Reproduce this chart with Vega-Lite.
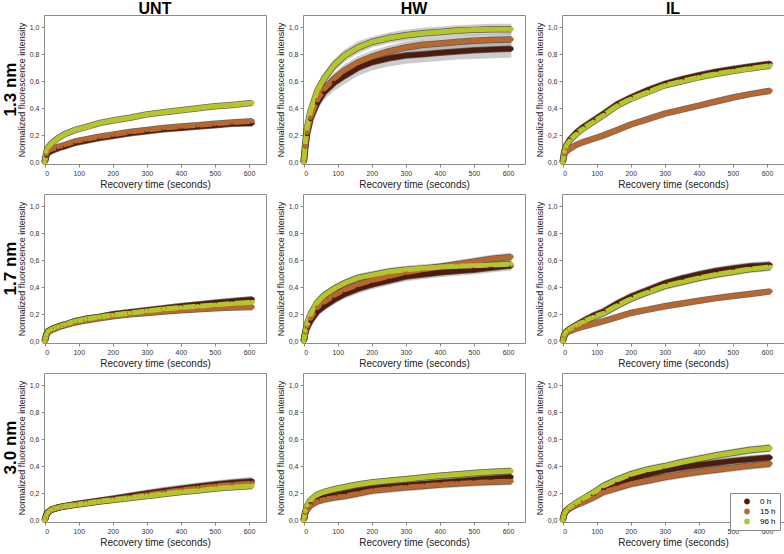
{
"$schema":"https://vega.github.io/schema/vega-lite/v6.json",
"padding":{"left":1,"top":1,"right":0,"bottom":0},
"background":"white",
"data":{"values":[
{"r":"1.3 nm","c":"UNT","g":"0 h","t":0,"y":0,"e":0.005},{"r":"1.3 nm","c":"UNT","g":"0 h","t":5,"y":0.05,"e":0.008},{"r":"1.3 nm","c":"UNT","g":"0 h","t":10,"y":0.07,"e":0.01},{"r":"1.3 nm","c":"UNT","g":"0 h","t":20,"y":0.085,"e":0.01},{"r":"1.3 nm","c":"UNT","g":"0 h","t":40,"y":0.105,"e":0.012},{"r":"1.3 nm","c":"UNT","g":"0 h","t":60,"y":0.12,"e":0.012},{"r":"1.3 nm","c":"UNT","g":"0 h","t":90,"y":0.145,"e":0.014},{"r":"1.3 nm","c":"UNT","g":"0 h","t":120,"y":0.16,"e":0.014},{"r":"1.3 nm","c":"UNT","g":"0 h","t":160,"y":0.18,"e":0.015},{"r":"1.3 nm","c":"UNT","g":"0 h","t":200,"y":0.195,"e":0.016},{"r":"1.3 nm","c":"UNT","g":"0 h","t":250,"y":0.215,"e":0.017},{"r":"1.3 nm","c":"UNT","g":"0 h","t":300,"y":0.23,"e":0.018},{"r":"1.3 nm","c":"UNT","g":"0 h","t":350,"y":0.245,"e":0.018},{"r":"1.3 nm","c":"UNT","g":"0 h","t":400,"y":0.255,"e":0.019},{"r":"1.3 nm","c":"UNT","g":"0 h","t":450,"y":0.265,"e":0.02},{"r":"1.3 nm","c":"UNT","g":"0 h","t":500,"y":0.275,"e":0.02},{"r":"1.3 nm","c":"UNT","g":"0 h","t":550,"y":0.285,"e":0.02},{"r":"1.3 nm","c":"UNT","g":"0 h","t":610,"y":0.29,"e":0.02},
{"r":"1.3 nm","c":"UNT","g":"15 h","t":0,"y":0,"e":0.005},{"r":"1.3 nm","c":"UNT","g":"15 h","t":5,"y":0.06,"e":0.008},{"r":"1.3 nm","c":"UNT","g":"15 h","t":10,"y":0.08,"e":0.01},{"r":"1.3 nm","c":"UNT","g":"15 h","t":20,"y":0.095,"e":0.01},{"r":"1.3 nm","c":"UNT","g":"15 h","t":40,"y":0.115,"e":0.012},{"r":"1.3 nm","c":"UNT","g":"15 h","t":60,"y":0.13,"e":0.012},{"r":"1.3 nm","c":"UNT","g":"15 h","t":90,"y":0.155,"e":0.013},{"r":"1.3 nm","c":"UNT","g":"15 h","t":120,"y":0.17,"e":0.013},{"r":"1.3 nm","c":"UNT","g":"15 h","t":160,"y":0.19,"e":0.014},{"r":"1.3 nm","c":"UNT","g":"15 h","t":200,"y":0.205,"e":0.015},{"r":"1.3 nm","c":"UNT","g":"15 h","t":250,"y":0.225,"e":0.015},{"r":"1.3 nm","c":"UNT","g":"15 h","t":300,"y":0.24,"e":0.016},{"r":"1.3 nm","c":"UNT","g":"15 h","t":350,"y":0.255,"e":0.016},{"r":"1.3 nm","c":"UNT","g":"15 h","t":400,"y":0.265,"e":0.017},{"r":"1.3 nm","c":"UNT","g":"15 h","t":450,"y":0.275,"e":0.017},{"r":"1.3 nm","c":"UNT","g":"15 h","t":500,"y":0.285,"e":0.018},{"r":"1.3 nm","c":"UNT","g":"15 h","t":550,"y":0.295,"e":0.018},{"r":"1.3 nm","c":"UNT","g":"15 h","t":610,"y":0.305,"e":0.018},
{"r":"1.3 nm","c":"UNT","g":"96 h","t":0,"y":0,"e":0.005},{"r":"1.3 nm","c":"UNT","g":"96 h","t":5,"y":0.08,"e":0.008},{"r":"1.3 nm","c":"UNT","g":"96 h","t":10,"y":0.11,"e":0.01},{"r":"1.3 nm","c":"UNT","g":"96 h","t":20,"y":0.14,"e":0.01},{"r":"1.3 nm","c":"UNT","g":"96 h","t":40,"y":0.18,"e":0.012},{"r":"1.3 nm","c":"UNT","g":"96 h","t":60,"y":0.21,"e":0.012},{"r":"1.3 nm","c":"UNT","g":"96 h","t":90,"y":0.24,"e":0.013},{"r":"1.3 nm","c":"UNT","g":"96 h","t":120,"y":0.26,"e":0.014},{"r":"1.3 nm","c":"UNT","g":"96 h","t":160,"y":0.29,"e":0.015},{"r":"1.3 nm","c":"UNT","g":"96 h","t":200,"y":0.31,"e":0.015},{"r":"1.3 nm","c":"UNT","g":"96 h","t":250,"y":0.33,"e":0.016},{"r":"1.3 nm","c":"UNT","g":"96 h","t":300,"y":0.355,"e":0.016},{"r":"1.3 nm","c":"UNT","g":"96 h","t":350,"y":0.37,"e":0.017},{"r":"1.3 nm","c":"UNT","g":"96 h","t":400,"y":0.385,"e":0.017},{"r":"1.3 nm","c":"UNT","g":"96 h","t":450,"y":0.4,"e":0.018},{"r":"1.3 nm","c":"UNT","g":"96 h","t":500,"y":0.415,"e":0.018},{"r":"1.3 nm","c":"UNT","g":"96 h","t":550,"y":0.425,"e":0.018},{"r":"1.3 nm","c":"UNT","g":"96 h","t":610,"y":0.44,"e":0.018},
{"r":"1.3 nm","c":"HW","g":"0 h","t":0,"y":0,"e":0.01},{"r":"1.3 nm","c":"HW","g":"0 h","t":5,"y":0.12,"e":0.02},{"r":"1.3 nm","c":"HW","g":"0 h","t":10,"y":0.21,"e":0.03},{"r":"1.3 nm","c":"HW","g":"0 h","t":20,"y":0.32,"e":0.04},{"r":"1.3 nm","c":"HW","g":"0 h","t":40,"y":0.44,"e":0.05},{"r":"1.3 nm","c":"HW","g":"0 h","t":60,"y":0.52,"e":0.055},{"r":"1.3 nm","c":"HW","g":"0 h","t":90,"y":0.59,"e":0.06},{"r":"1.3 nm","c":"HW","g":"0 h","t":120,"y":0.64,"e":0.06},{"r":"1.3 nm","c":"HW","g":"0 h","t":160,"y":0.7,"e":0.06},{"r":"1.3 nm","c":"HW","g":"0 h","t":200,"y":0.74,"e":0.06},{"r":"1.3 nm","c":"HW","g":"0 h","t":250,"y":0.77,"e":0.06},{"r":"1.3 nm","c":"HW","g":"0 h","t":300,"y":0.79,"e":0.06},{"r":"1.3 nm","c":"HW","g":"0 h","t":350,"y":0.8,"e":0.06},{"r":"1.3 nm","c":"HW","g":"0 h","t":400,"y":0.81,"e":0.06},{"r":"1.3 nm","c":"HW","g":"0 h","t":450,"y":0.82,"e":0.06},{"r":"1.3 nm","c":"HW","g":"0 h","t":500,"y":0.83,"e":0.065},{"r":"1.3 nm","c":"HW","g":"0 h","t":550,"y":0.835,"e":0.065},{"r":"1.3 nm","c":"HW","g":"0 h","t":610,"y":0.84,"e":0.065},
{"r":"1.3 nm","c":"HW","g":"15 h","t":0,"y":0,"e":0.01},{"r":"1.3 nm","c":"HW","g":"15 h","t":5,"y":0.12,"e":0.02},{"r":"1.3 nm","c":"HW","g":"15 h","t":10,"y":0.22,"e":0.03},{"r":"1.3 nm","c":"HW","g":"15 h","t":20,"y":0.33,"e":0.035},{"r":"1.3 nm","c":"HW","g":"15 h","t":40,"y":0.46,"e":0.04},{"r":"1.3 nm","c":"HW","g":"15 h","t":60,"y":0.54,"e":0.045},{"r":"1.3 nm","c":"HW","g":"15 h","t":90,"y":0.62,"e":0.045},{"r":"1.3 nm","c":"HW","g":"15 h","t":120,"y":0.68,"e":0.045},{"r":"1.3 nm","c":"HW","g":"15 h","t":160,"y":0.74,"e":0.045},{"r":"1.3 nm","c":"HW","g":"15 h","t":200,"y":0.78,"e":0.045},{"r":"1.3 nm","c":"HW","g":"15 h","t":250,"y":0.82,"e":0.045},{"r":"1.3 nm","c":"HW","g":"15 h","t":300,"y":0.85,"e":0.045},{"r":"1.3 nm","c":"HW","g":"15 h","t":350,"y":0.87,"e":0.045},{"r":"1.3 nm","c":"HW","g":"15 h","t":400,"y":0.88,"e":0.045},{"r":"1.3 nm","c":"HW","g":"15 h","t":450,"y":0.89,"e":0.045},{"r":"1.3 nm","c":"HW","g":"15 h","t":500,"y":0.9,"e":0.045},{"r":"1.3 nm","c":"HW","g":"15 h","t":550,"y":0.905,"e":0.045},{"r":"1.3 nm","c":"HW","g":"15 h","t":610,"y":0.91,"e":0.045},
{"r":"1.3 nm","c":"HW","g":"96 h","t":0,"y":0,"e":0.01},{"r":"1.3 nm","c":"HW","g":"96 h","t":5,"y":0.15,"e":0.02},{"r":"1.3 nm","c":"HW","g":"96 h","t":10,"y":0.26,"e":0.03},{"r":"1.3 nm","c":"HW","g":"96 h","t":20,"y":0.38,"e":0.035},{"r":"1.3 nm","c":"HW","g":"96 h","t":40,"y":0.53,"e":0.04},{"r":"1.3 nm","c":"HW","g":"96 h","t":60,"y":0.62,"e":0.045},{"r":"1.3 nm","c":"HW","g":"96 h","t":90,"y":0.72,"e":0.045},{"r":"1.3 nm","c":"HW","g":"96 h","t":120,"y":0.79,"e":0.045},{"r":"1.3 nm","c":"HW","g":"96 h","t":160,"y":0.85,"e":0.045},{"r":"1.3 nm","c":"HW","g":"96 h","t":200,"y":0.89,"e":0.04},{"r":"1.3 nm","c":"HW","g":"96 h","t":250,"y":0.92,"e":0.04},{"r":"1.3 nm","c":"HW","g":"96 h","t":300,"y":0.94,"e":0.04},{"r":"1.3 nm","c":"HW","g":"96 h","t":350,"y":0.955,"e":0.04},{"r":"1.3 nm","c":"HW","g":"96 h","t":400,"y":0.965,"e":0.04},{"r":"1.3 nm","c":"HW","g":"96 h","t":450,"y":0.975,"e":0.04},{"r":"1.3 nm","c":"HW","g":"96 h","t":500,"y":0.98,"e":0.04},{"r":"1.3 nm","c":"HW","g":"96 h","t":550,"y":0.985,"e":0.04},{"r":"1.3 nm","c":"HW","g":"96 h","t":610,"y":0.985,"e":0.04},
{"r":"1.3 nm","c":"IL","g":"0 h","t":0,"y":0,"e":0.005},{"r":"1.3 nm","c":"IL","g":"0 h","t":5,"y":0.08,"e":0.01},{"r":"1.3 nm","c":"IL","g":"0 h","t":10,"y":0.12,"e":0.012},{"r":"1.3 nm","c":"IL","g":"0 h","t":20,"y":0.165,"e":0.015},{"r":"1.3 nm","c":"IL","g":"0 h","t":40,"y":0.22,"e":0.018},{"r":"1.3 nm","c":"IL","g":"0 h","t":60,"y":0.26,"e":0.02},{"r":"1.3 nm","c":"IL","g":"0 h","t":90,"y":0.31,"e":0.02},{"r":"1.3 nm","c":"IL","g":"0 h","t":120,"y":0.36,"e":0.02},{"r":"1.3 nm","c":"IL","g":"0 h","t":160,"y":0.43,"e":0.02},{"r":"1.3 nm","c":"IL","g":"0 h","t":200,"y":0.48,"e":0.02},{"r":"1.3 nm","c":"IL","g":"0 h","t":250,"y":0.535,"e":0.02},{"r":"1.3 nm","c":"IL","g":"0 h","t":300,"y":0.58,"e":0.02},{"r":"1.3 nm","c":"IL","g":"0 h","t":350,"y":0.615,"e":0.02},{"r":"1.3 nm","c":"IL","g":"0 h","t":400,"y":0.645,"e":0.02},{"r":"1.3 nm","c":"IL","g":"0 h","t":450,"y":0.67,"e":0.02},{"r":"1.3 nm","c":"IL","g":"0 h","t":500,"y":0.69,"e":0.02},{"r":"1.3 nm","c":"IL","g":"0 h","t":550,"y":0.71,"e":0.02},{"r":"1.3 nm","c":"IL","g":"0 h","t":610,"y":0.73,"e":0.02},
{"r":"1.3 nm","c":"IL","g":"15 h","t":0,"y":0,"e":0.005},{"r":"1.3 nm","c":"IL","g":"15 h","t":5,"y":0.06,"e":0.008},{"r":"1.3 nm","c":"IL","g":"15 h","t":10,"y":0.08,"e":0.01},{"r":"1.3 nm","c":"IL","g":"15 h","t":20,"y":0.1,"e":0.01},{"r":"1.3 nm","c":"IL","g":"15 h","t":40,"y":0.13,"e":0.012},{"r":"1.3 nm","c":"IL","g":"15 h","t":60,"y":0.15,"e":0.012},{"r":"1.3 nm","c":"IL","g":"15 h","t":90,"y":0.175,"e":0.013},{"r":"1.3 nm","c":"IL","g":"15 h","t":120,"y":0.2,"e":0.014},{"r":"1.3 nm","c":"IL","g":"15 h","t":160,"y":0.24,"e":0.015},{"r":"1.3 nm","c":"IL","g":"15 h","t":200,"y":0.28,"e":0.015},{"r":"1.3 nm","c":"IL","g":"15 h","t":250,"y":0.32,"e":0.016},{"r":"1.3 nm","c":"IL","g":"15 h","t":300,"y":0.36,"e":0.016},{"r":"1.3 nm","c":"IL","g":"15 h","t":350,"y":0.39,"e":0.017},{"r":"1.3 nm","c":"IL","g":"15 h","t":400,"y":0.42,"e":0.017},{"r":"1.3 nm","c":"IL","g":"15 h","t":450,"y":0.45,"e":0.018},{"r":"1.3 nm","c":"IL","g":"15 h","t":500,"y":0.48,"e":0.018},{"r":"1.3 nm","c":"IL","g":"15 h","t":550,"y":0.505,"e":0.018},{"r":"1.3 nm","c":"IL","g":"15 h","t":610,"y":0.53,"e":0.018},
{"r":"1.3 nm","c":"IL","g":"96 h","t":0,"y":0,"e":0.005},{"r":"1.3 nm","c":"IL","g":"96 h","t":5,"y":0.08,"e":0.01},{"r":"1.3 nm","c":"IL","g":"96 h","t":10,"y":0.12,"e":0.012},{"r":"1.3 nm","c":"IL","g":"96 h","t":20,"y":0.16,"e":0.015},{"r":"1.3 nm","c":"IL","g":"96 h","t":40,"y":0.21,"e":0.018},{"r":"1.3 nm","c":"IL","g":"96 h","t":60,"y":0.25,"e":0.02},{"r":"1.3 nm","c":"IL","g":"96 h","t":90,"y":0.3,"e":0.02},{"r":"1.3 nm","c":"IL","g":"96 h","t":120,"y":0.35,"e":0.02},{"r":"1.3 nm","c":"IL","g":"96 h","t":160,"y":0.42,"e":0.02},{"r":"1.3 nm","c":"IL","g":"96 h","t":200,"y":0.47,"e":0.02},{"r":"1.3 nm","c":"IL","g":"96 h","t":250,"y":0.52,"e":0.02},{"r":"1.3 nm","c":"IL","g":"96 h","t":300,"y":0.57,"e":0.02},{"r":"1.3 nm","c":"IL","g":"96 h","t":350,"y":0.6,"e":0.02},{"r":"1.3 nm","c":"IL","g":"96 h","t":400,"y":0.63,"e":0.02},{"r":"1.3 nm","c":"IL","g":"96 h","t":450,"y":0.655,"e":0.02},{"r":"1.3 nm","c":"IL","g":"96 h","t":500,"y":0.675,"e":0.02},{"r":"1.3 nm","c":"IL","g":"96 h","t":550,"y":0.695,"e":0.02},{"r":"1.3 nm","c":"IL","g":"96 h","t":610,"y":0.715,"e":0.02},
{"r":"1.7 nm","c":"UNT","g":"0 h","t":0,"y":0,"e":0.005},{"r":"1.7 nm","c":"UNT","g":"0 h","t":5,"y":0.05,"e":0.01},{"r":"1.7 nm","c":"UNT","g":"0 h","t":10,"y":0.075,"e":0.012},{"r":"1.7 nm","c":"UNT","g":"0 h","t":20,"y":0.09,"e":0.015},{"r":"1.7 nm","c":"UNT","g":"0 h","t":40,"y":0.11,"e":0.018},{"r":"1.7 nm","c":"UNT","g":"0 h","t":60,"y":0.125,"e":0.02},{"r":"1.7 nm","c":"UNT","g":"0 h","t":90,"y":0.15,"e":0.02},{"r":"1.7 nm","c":"UNT","g":"0 h","t":120,"y":0.165,"e":0.022},{"r":"1.7 nm","c":"UNT","g":"0 h","t":160,"y":0.18,"e":0.022},{"r":"1.7 nm","c":"UNT","g":"0 h","t":200,"y":0.2,"e":0.024},{"r":"1.7 nm","c":"UNT","g":"0 h","t":250,"y":0.215,"e":0.025},{"r":"1.7 nm","c":"UNT","g":"0 h","t":300,"y":0.23,"e":0.025},{"r":"1.7 nm","c":"UNT","g":"0 h","t":350,"y":0.245,"e":0.025},{"r":"1.7 nm","c":"UNT","g":"0 h","t":400,"y":0.26,"e":0.025},{"r":"1.7 nm","c":"UNT","g":"0 h","t":450,"y":0.272,"e":0.025},{"r":"1.7 nm","c":"UNT","g":"0 h","t":500,"y":0.285,"e":0.025},{"r":"1.7 nm","c":"UNT","g":"0 h","t":550,"y":0.297,"e":0.025},{"r":"1.7 nm","c":"UNT","g":"0 h","t":610,"y":0.31,"e":0.025},
{"r":"1.7 nm","c":"UNT","g":"15 h","t":0,"y":0,"e":0.005},{"r":"1.7 nm","c":"UNT","g":"15 h","t":5,"y":0.05,"e":0.01},{"r":"1.7 nm","c":"UNT","g":"15 h","t":10,"y":0.07,"e":0.012},{"r":"1.7 nm","c":"UNT","g":"15 h","t":20,"y":0.085,"e":0.014},{"r":"1.7 nm","c":"UNT","g":"15 h","t":40,"y":0.105,"e":0.016},{"r":"1.7 nm","c":"UNT","g":"15 h","t":60,"y":0.12,"e":0.018},{"r":"1.7 nm","c":"UNT","g":"15 h","t":90,"y":0.14,"e":0.018},{"r":"1.7 nm","c":"UNT","g":"15 h","t":120,"y":0.155,"e":0.02},{"r":"1.7 nm","c":"UNT","g":"15 h","t":160,"y":0.17,"e":0.02},{"r":"1.7 nm","c":"UNT","g":"15 h","t":200,"y":0.185,"e":0.02},{"r":"1.7 nm","c":"UNT","g":"15 h","t":250,"y":0.2,"e":0.02},{"r":"1.7 nm","c":"UNT","g":"15 h","t":300,"y":0.21,"e":0.02},{"r":"1.7 nm","c":"UNT","g":"15 h","t":350,"y":0.22,"e":0.02},{"r":"1.7 nm","c":"UNT","g":"15 h","t":400,"y":0.23,"e":0.02},{"r":"1.7 nm","c":"UNT","g":"15 h","t":450,"y":0.238,"e":0.02},{"r":"1.7 nm","c":"UNT","g":"15 h","t":500,"y":0.245,"e":0.02},{"r":"1.7 nm","c":"UNT","g":"15 h","t":550,"y":0.25,"e":0.02},{"r":"1.7 nm","c":"UNT","g":"15 h","t":610,"y":0.255,"e":0.02},
{"r":"1.7 nm","c":"UNT","g":"96 h","t":0,"y":0,"e":0.005},{"r":"1.7 nm","c":"UNT","g":"96 h","t":5,"y":0.05,"e":0.01},{"r":"1.7 nm","c":"UNT","g":"96 h","t":10,"y":0.075,"e":0.012},{"r":"1.7 nm","c":"UNT","g":"96 h","t":20,"y":0.09,"e":0.014},{"r":"1.7 nm","c":"UNT","g":"96 h","t":40,"y":0.11,"e":0.016},{"r":"1.7 nm","c":"UNT","g":"96 h","t":60,"y":0.125,"e":0.018},{"r":"1.7 nm","c":"UNT","g":"96 h","t":90,"y":0.15,"e":0.018},{"r":"1.7 nm","c":"UNT","g":"96 h","t":120,"y":0.165,"e":0.02},{"r":"1.7 nm","c":"UNT","g":"96 h","t":160,"y":0.18,"e":0.02},{"r":"1.7 nm","c":"UNT","g":"96 h","t":200,"y":0.195,"e":0.02},{"r":"1.7 nm","c":"UNT","g":"96 h","t":250,"y":0.21,"e":0.02},{"r":"1.7 nm","c":"UNT","g":"96 h","t":300,"y":0.225,"e":0.02},{"r":"1.7 nm","c":"UNT","g":"96 h","t":350,"y":0.24,"e":0.02},{"r":"1.7 nm","c":"UNT","g":"96 h","t":400,"y":0.25,"e":0.02},{"r":"1.7 nm","c":"UNT","g":"96 h","t":450,"y":0.26,"e":0.02},{"r":"1.7 nm","c":"UNT","g":"96 h","t":500,"y":0.27,"e":0.02},{"r":"1.7 nm","c":"UNT","g":"96 h","t":550,"y":0.28,"e":0.02},{"r":"1.7 nm","c":"UNT","g":"96 h","t":610,"y":0.29,"e":0.02},
{"r":"1.7 nm","c":"HW","g":"0 h","t":0,"y":0,"e":0.005},{"r":"1.7 nm","c":"HW","g":"0 h","t":5,"y":0.07,"e":0.015},{"r":"1.7 nm","c":"HW","g":"0 h","t":10,"y":0.1,"e":0.02},{"r":"1.7 nm","c":"HW","g":"0 h","t":20,"y":0.15,"e":0.025},{"r":"1.7 nm","c":"HW","g":"0 h","t":40,"y":0.22,"e":0.03},{"r":"1.7 nm","c":"HW","g":"0 h","t":60,"y":0.26,"e":0.03},{"r":"1.7 nm","c":"HW","g":"0 h","t":90,"y":0.31,"e":0.035},{"r":"1.7 nm","c":"HW","g":"0 h","t":120,"y":0.35,"e":0.035},{"r":"1.7 nm","c":"HW","g":"0 h","t":160,"y":0.39,"e":0.035},{"r":"1.7 nm","c":"HW","g":"0 h","t":200,"y":0.42,"e":0.035},{"r":"1.7 nm","c":"HW","g":"0 h","t":250,"y":0.45,"e":0.035},{"r":"1.7 nm","c":"HW","g":"0 h","t":300,"y":0.48,"e":0.035},{"r":"1.7 nm","c":"HW","g":"0 h","t":350,"y":0.495,"e":0.035},{"r":"1.7 nm","c":"HW","g":"0 h","t":400,"y":0.51,"e":0.035},{"r":"1.7 nm","c":"HW","g":"0 h","t":450,"y":0.52,"e":0.035},{"r":"1.7 nm","c":"HW","g":"0 h","t":500,"y":0.53,"e":0.035},{"r":"1.7 nm","c":"HW","g":"0 h","t":550,"y":0.545,"e":0.035},{"r":"1.7 nm","c":"HW","g":"0 h","t":610,"y":0.56,"e":0.035},
{"r":"1.7 nm","c":"HW","g":"15 h","t":0,"y":0,"e":0.005},{"r":"1.7 nm","c":"HW","g":"15 h","t":5,"y":0.07,"e":0.015},{"r":"1.7 nm","c":"HW","g":"15 h","t":10,"y":0.11,"e":0.02},{"r":"1.7 nm","c":"HW","g":"15 h","t":20,"y":0.17,"e":0.025},{"r":"1.7 nm","c":"HW","g":"15 h","t":40,"y":0.25,"e":0.03},{"r":"1.7 nm","c":"HW","g":"15 h","t":60,"y":0.29,"e":0.03},{"r":"1.7 nm","c":"HW","g":"15 h","t":90,"y":0.34,"e":0.03},{"r":"1.7 nm","c":"HW","g":"15 h","t":120,"y":0.38,"e":0.03},{"r":"1.7 nm","c":"HW","g":"15 h","t":160,"y":0.42,"e":0.03},{"r":"1.7 nm","c":"HW","g":"15 h","t":200,"y":0.45,"e":0.03},{"r":"1.7 nm","c":"HW","g":"15 h","t":250,"y":0.48,"e":0.03},{"r":"1.7 nm","c":"HW","g":"15 h","t":300,"y":0.51,"e":0.03},{"r":"1.7 nm","c":"HW","g":"15 h","t":350,"y":0.53,"e":0.03},{"r":"1.7 nm","c":"HW","g":"15 h","t":400,"y":0.55,"e":0.03},{"r":"1.7 nm","c":"HW","g":"15 h","t":450,"y":0.57,"e":0.03},{"r":"1.7 nm","c":"HW","g":"15 h","t":500,"y":0.59,"e":0.03},{"r":"1.7 nm","c":"HW","g":"15 h","t":550,"y":0.61,"e":0.03},{"r":"1.7 nm","c":"HW","g":"15 h","t":610,"y":0.625,"e":0.03},
{"r":"1.7 nm","c":"HW","g":"96 h","t":0,"y":0,"e":0.005},{"r":"1.7 nm","c":"HW","g":"96 h","t":5,"y":0.08,"e":0.015},{"r":"1.7 nm","c":"HW","g":"96 h","t":10,"y":0.13,"e":0.02},{"r":"1.7 nm","c":"HW","g":"96 h","t":20,"y":0.2,"e":0.025},{"r":"1.7 nm","c":"HW","g":"96 h","t":40,"y":0.29,"e":0.03},{"r":"1.7 nm","c":"HW","g":"96 h","t":60,"y":0.34,"e":0.03},{"r":"1.7 nm","c":"HW","g":"96 h","t":90,"y":0.39,"e":0.03},{"r":"1.7 nm","c":"HW","g":"96 h","t":120,"y":0.43,"e":0.03},{"r":"1.7 nm","c":"HW","g":"96 h","t":160,"y":0.47,"e":0.03},{"r":"1.7 nm","c":"HW","g":"96 h","t":200,"y":0.49,"e":0.03},{"r":"1.7 nm","c":"HW","g":"96 h","t":250,"y":0.515,"e":0.03},{"r":"1.7 nm","c":"HW","g":"96 h","t":300,"y":0.53,"e":0.03},{"r":"1.7 nm","c":"HW","g":"96 h","t":350,"y":0.54,"e":0.03},{"r":"1.7 nm","c":"HW","g":"96 h","t":400,"y":0.55,"e":0.03},{"r":"1.7 nm","c":"HW","g":"96 h","t":450,"y":0.555,"e":0.03},{"r":"1.7 nm","c":"HW","g":"96 h","t":500,"y":0.56,"e":0.03},{"r":"1.7 nm","c":"HW","g":"96 h","t":550,"y":0.565,"e":0.03},{"r":"1.7 nm","c":"HW","g":"96 h","t":610,"y":0.57,"e":0.03},
{"r":"1.7 nm","c":"IL","g":"0 h","t":0,"y":0,"e":0.005},{"r":"1.7 nm","c":"IL","g":"0 h","t":5,"y":0.05,"e":0.01},{"r":"1.7 nm","c":"IL","g":"0 h","t":10,"y":0.07,"e":0.015},{"r":"1.7 nm","c":"IL","g":"0 h","t":20,"y":0.09,"e":0.02},{"r":"1.7 nm","c":"IL","g":"0 h","t":40,"y":0.12,"e":0.025},{"r":"1.7 nm","c":"IL","g":"0 h","t":60,"y":0.15,"e":0.03},{"r":"1.7 nm","c":"IL","g":"0 h","t":90,"y":0.19,"e":0.03},{"r":"1.7 nm","c":"IL","g":"0 h","t":120,"y":0.22,"e":0.03},{"r":"1.7 nm","c":"IL","g":"0 h","t":160,"y":0.28,"e":0.03},{"r":"1.7 nm","c":"IL","g":"0 h","t":200,"y":0.33,"e":0.03},{"r":"1.7 nm","c":"IL","g":"0 h","t":250,"y":0.38,"e":0.03},{"r":"1.7 nm","c":"IL","g":"0 h","t":300,"y":0.43,"e":0.03},{"r":"1.7 nm","c":"IL","g":"0 h","t":350,"y":0.465,"e":0.03},{"r":"1.7 nm","c":"IL","g":"0 h","t":400,"y":0.495,"e":0.03},{"r":"1.7 nm","c":"IL","g":"0 h","t":450,"y":0.52,"e":0.03},{"r":"1.7 nm","c":"IL","g":"0 h","t":500,"y":0.54,"e":0.03},{"r":"1.7 nm","c":"IL","g":"0 h","t":550,"y":0.555,"e":0.03},{"r":"1.7 nm","c":"IL","g":"0 h","t":610,"y":0.565,"e":0.03},
{"r":"1.7 nm","c":"IL","g":"15 h","t":0,"y":0,"e":0.005},{"r":"1.7 nm","c":"IL","g":"15 h","t":5,"y":0.04,"e":0.008},{"r":"1.7 nm","c":"IL","g":"15 h","t":10,"y":0.06,"e":0.01},{"r":"1.7 nm","c":"IL","g":"15 h","t":20,"y":0.075,"e":0.01},{"r":"1.7 nm","c":"IL","g":"15 h","t":40,"y":0.095,"e":0.012},{"r":"1.7 nm","c":"IL","g":"15 h","t":60,"y":0.11,"e":0.012},{"r":"1.7 nm","c":"IL","g":"15 h","t":90,"y":0.13,"e":0.013},{"r":"1.7 nm","c":"IL","g":"15 h","t":120,"y":0.15,"e":0.014},{"r":"1.7 nm","c":"IL","g":"15 h","t":160,"y":0.18,"e":0.015},{"r":"1.7 nm","c":"IL","g":"15 h","t":200,"y":0.21,"e":0.015},{"r":"1.7 nm","c":"IL","g":"15 h","t":250,"y":0.235,"e":0.016},{"r":"1.7 nm","c":"IL","g":"15 h","t":300,"y":0.26,"e":0.016},{"r":"1.7 nm","c":"IL","g":"15 h","t":350,"y":0.28,"e":0.017},{"r":"1.7 nm","c":"IL","g":"15 h","t":400,"y":0.3,"e":0.017},{"r":"1.7 nm","c":"IL","g":"15 h","t":450,"y":0.32,"e":0.018},{"r":"1.7 nm","c":"IL","g":"15 h","t":500,"y":0.335,"e":0.018},{"r":"1.7 nm","c":"IL","g":"15 h","t":550,"y":0.35,"e":0.018},{"r":"1.7 nm","c":"IL","g":"15 h","t":610,"y":0.37,"e":0.018},
{"r":"1.7 nm","c":"IL","g":"96 h","t":0,"y":0,"e":0.005},{"r":"1.7 nm","c":"IL","g":"96 h","t":5,"y":0.05,"e":0.01},{"r":"1.7 nm","c":"IL","g":"96 h","t":10,"y":0.07,"e":0.015},{"r":"1.7 nm","c":"IL","g":"96 h","t":20,"y":0.09,"e":0.02},{"r":"1.7 nm","c":"IL","g":"96 h","t":40,"y":0.12,"e":0.025},{"r":"1.7 nm","c":"IL","g":"96 h","t":60,"y":0.145,"e":0.03},{"r":"1.7 nm","c":"IL","g":"96 h","t":90,"y":0.18,"e":0.03},{"r":"1.7 nm","c":"IL","g":"96 h","t":120,"y":0.21,"e":0.03},{"r":"1.7 nm","c":"IL","g":"96 h","t":160,"y":0.265,"e":0.03},{"r":"1.7 nm","c":"IL","g":"96 h","t":200,"y":0.315,"e":0.03},{"r":"1.7 nm","c":"IL","g":"96 h","t":250,"y":0.365,"e":0.03},{"r":"1.7 nm","c":"IL","g":"96 h","t":300,"y":0.41,"e":0.03},{"r":"1.7 nm","c":"IL","g":"96 h","t":350,"y":0.44,"e":0.03},{"r":"1.7 nm","c":"IL","g":"96 h","t":400,"y":0.47,"e":0.03},{"r":"1.7 nm","c":"IL","g":"96 h","t":450,"y":0.495,"e":0.03},{"r":"1.7 nm","c":"IL","g":"96 h","t":500,"y":0.515,"e":0.03},{"r":"1.7 nm","c":"IL","g":"96 h","t":550,"y":0.535,"e":0.03},{"r":"1.7 nm","c":"IL","g":"96 h","t":610,"y":0.55,"e":0.03},
{"r":"3.0 nm","c":"UNT","g":"0 h","t":0,"y":0,"e":0.005},{"r":"3.0 nm","c":"UNT","g":"0 h","t":5,"y":0.04,"e":0.01},{"r":"3.0 nm","c":"UNT","g":"0 h","t":10,"y":0.06,"e":0.012},{"r":"3.0 nm","c":"UNT","g":"0 h","t":20,"y":0.08,"e":0.015},{"r":"3.0 nm","c":"UNT","g":"0 h","t":40,"y":0.095,"e":0.018},{"r":"3.0 nm","c":"UNT","g":"0 h","t":60,"y":0.105,"e":0.02},{"r":"3.0 nm","c":"UNT","g":"0 h","t":90,"y":0.12,"e":0.022},{"r":"3.0 nm","c":"UNT","g":"0 h","t":120,"y":0.13,"e":0.024},{"r":"3.0 nm","c":"UNT","g":"0 h","t":160,"y":0.145,"e":0.025},{"r":"3.0 nm","c":"UNT","g":"0 h","t":200,"y":0.16,"e":0.025},{"r":"3.0 nm","c":"UNT","g":"0 h","t":250,"y":0.18,"e":0.027},{"r":"3.0 nm","c":"UNT","g":"0 h","t":300,"y":0.2,"e":0.028},{"r":"3.0 nm","c":"UNT","g":"0 h","t":350,"y":0.218,"e":0.03},{"r":"3.0 nm","c":"UNT","g":"0 h","t":400,"y":0.235,"e":0.03},{"r":"3.0 nm","c":"UNT","g":"0 h","t":450,"y":0.25,"e":0.03},{"r":"3.0 nm","c":"UNT","g":"0 h","t":500,"y":0.265,"e":0.03},{"r":"3.0 nm","c":"UNT","g":"0 h","t":550,"y":0.278,"e":0.032},{"r":"3.0 nm","c":"UNT","g":"0 h","t":610,"y":0.29,"e":0.032},
{"r":"3.0 nm","c":"UNT","g":"15 h","t":0,"y":0,"e":0.005},{"r":"3.0 nm","c":"UNT","g":"15 h","t":5,"y":0.04,"e":0.01},{"r":"3.0 nm","c":"UNT","g":"15 h","t":10,"y":0.06,"e":0.012},{"r":"3.0 nm","c":"UNT","g":"15 h","t":20,"y":0.08,"e":0.014},{"r":"3.0 nm","c":"UNT","g":"15 h","t":40,"y":0.095,"e":0.016},{"r":"3.0 nm","c":"UNT","g":"15 h","t":60,"y":0.105,"e":0.018},{"r":"3.0 nm","c":"UNT","g":"15 h","t":90,"y":0.118,"e":0.018},{"r":"3.0 nm","c":"UNT","g":"15 h","t":120,"y":0.128,"e":0.02},{"r":"3.0 nm","c":"UNT","g":"15 h","t":160,"y":0.142,"e":0.02},{"r":"3.0 nm","c":"UNT","g":"15 h","t":200,"y":0.155,"e":0.022},{"r":"3.0 nm","c":"UNT","g":"15 h","t":250,"y":0.172,"e":0.022},{"r":"3.0 nm","c":"UNT","g":"15 h","t":300,"y":0.19,"e":0.024},{"r":"3.0 nm","c":"UNT","g":"15 h","t":350,"y":0.208,"e":0.024},{"r":"3.0 nm","c":"UNT","g":"15 h","t":400,"y":0.225,"e":0.025},{"r":"3.0 nm","c":"UNT","g":"15 h","t":450,"y":0.24,"e":0.025},{"r":"3.0 nm","c":"UNT","g":"15 h","t":500,"y":0.255,"e":0.026},{"r":"3.0 nm","c":"UNT","g":"15 h","t":550,"y":0.265,"e":0.026},{"r":"3.0 nm","c":"UNT","g":"15 h","t":610,"y":0.275,"e":0.026},
{"r":"3.0 nm","c":"UNT","g":"96 h","t":0,"y":0,"e":0.005},{"r":"3.0 nm","c":"UNT","g":"96 h","t":5,"y":0.04,"e":0.01},{"r":"3.0 nm","c":"UNT","g":"96 h","t":10,"y":0.06,"e":0.012},{"r":"3.0 nm","c":"UNT","g":"96 h","t":20,"y":0.08,"e":0.014},{"r":"3.0 nm","c":"UNT","g":"96 h","t":40,"y":0.095,"e":0.016},{"r":"3.0 nm","c":"UNT","g":"96 h","t":60,"y":0.105,"e":0.018},{"r":"3.0 nm","c":"UNT","g":"96 h","t":90,"y":0.115,"e":0.018},{"r":"3.0 nm","c":"UNT","g":"96 h","t":120,"y":0.125,"e":0.02},{"r":"3.0 nm","c":"UNT","g":"96 h","t":160,"y":0.14,"e":0.02},{"r":"3.0 nm","c":"UNT","g":"96 h","t":200,"y":0.15,"e":0.02},{"r":"3.0 nm","c":"UNT","g":"96 h","t":250,"y":0.165,"e":0.02},{"r":"3.0 nm","c":"UNT","g":"96 h","t":300,"y":0.18,"e":0.022},{"r":"3.0 nm","c":"UNT","g":"96 h","t":350,"y":0.195,"e":0.022},{"r":"3.0 nm","c":"UNT","g":"96 h","t":400,"y":0.21,"e":0.022},{"r":"3.0 nm","c":"UNT","g":"96 h","t":450,"y":0.22,"e":0.022},{"r":"3.0 nm","c":"UNT","g":"96 h","t":500,"y":0.235,"e":0.022},{"r":"3.0 nm","c":"UNT","g":"96 h","t":550,"y":0.245,"e":0.022},{"r":"3.0 nm","c":"UNT","g":"96 h","t":610,"y":0.255,"e":0.022},
{"r":"3.0 nm","c":"HW","g":"0 h","t":0,"y":0,"e":0.005},{"r":"3.0 nm","c":"HW","g":"0 h","t":5,"y":0.06,"e":0.012},{"r":"3.0 nm","c":"HW","g":"0 h","t":10,"y":0.09,"e":0.015},{"r":"3.0 nm","c":"HW","g":"0 h","t":20,"y":0.12,"e":0.02},{"r":"3.0 nm","c":"HW","g":"0 h","t":40,"y":0.15,"e":0.025},{"r":"3.0 nm","c":"HW","g":"0 h","t":60,"y":0.17,"e":0.028},{"r":"3.0 nm","c":"HW","g":"0 h","t":90,"y":0.185,"e":0.03},{"r":"3.0 nm","c":"HW","g":"0 h","t":120,"y":0.2,"e":0.03},{"r":"3.0 nm","c":"HW","g":"0 h","t":160,"y":0.22,"e":0.03},{"r":"3.0 nm","c":"HW","g":"0 h","t":200,"y":0.235,"e":0.03},{"r":"3.0 nm","c":"HW","g":"0 h","t":250,"y":0.248,"e":0.03},{"r":"3.0 nm","c":"HW","g":"0 h","t":300,"y":0.26,"e":0.03},{"r":"3.0 nm","c":"HW","g":"0 h","t":350,"y":0.27,"e":0.03},{"r":"3.0 nm","c":"HW","g":"0 h","t":400,"y":0.28,"e":0.03},{"r":"3.0 nm","c":"HW","g":"0 h","t":450,"y":0.29,"e":0.03},{"r":"3.0 nm","c":"HW","g":"0 h","t":500,"y":0.3,"e":0.03},{"r":"3.0 nm","c":"HW","g":"0 h","t":550,"y":0.31,"e":0.03},{"r":"3.0 nm","c":"HW","g":"0 h","t":610,"y":0.32,"e":0.03},
{"r":"3.0 nm","c":"HW","g":"15 h","t":0,"y":0,"e":0.005},{"r":"3.0 nm","c":"HW","g":"15 h","t":5,"y":0.06,"e":0.012},{"r":"3.0 nm","c":"HW","g":"15 h","t":10,"y":0.08,"e":0.015},{"r":"3.0 nm","c":"HW","g":"15 h","t":20,"y":0.11,"e":0.02},{"r":"3.0 nm","c":"HW","g":"15 h","t":40,"y":0.14,"e":0.025},{"r":"3.0 nm","c":"HW","g":"15 h","t":60,"y":0.155,"e":0.028},{"r":"3.0 nm","c":"HW","g":"15 h","t":90,"y":0.17,"e":0.03},{"r":"3.0 nm","c":"HW","g":"15 h","t":120,"y":0.18,"e":0.03},{"r":"3.0 nm","c":"HW","g":"15 h","t":160,"y":0.2,"e":0.03},{"r":"3.0 nm","c":"HW","g":"15 h","t":200,"y":0.22,"e":0.03},{"r":"3.0 nm","c":"HW","g":"15 h","t":250,"y":0.233,"e":0.03},{"r":"3.0 nm","c":"HW","g":"15 h","t":300,"y":0.245,"e":0.03},{"r":"3.0 nm","c":"HW","g":"15 h","t":350,"y":0.255,"e":0.03},{"r":"3.0 nm","c":"HW","g":"15 h","t":400,"y":0.265,"e":0.03},{"r":"3.0 nm","c":"HW","g":"15 h","t":450,"y":0.273,"e":0.03},{"r":"3.0 nm","c":"HW","g":"15 h","t":500,"y":0.28,"e":0.03},{"r":"3.0 nm","c":"HW","g":"15 h","t":550,"y":0.285,"e":0.03},{"r":"3.0 nm","c":"HW","g":"15 h","t":610,"y":0.29,"e":0.03},
{"r":"3.0 nm","c":"HW","g":"96 h","t":0,"y":0,"e":0.005},{"r":"3.0 nm","c":"HW","g":"96 h","t":5,"y":0.07,"e":0.012},{"r":"3.0 nm","c":"HW","g":"96 h","t":10,"y":0.11,"e":0.015},{"r":"3.0 nm","c":"HW","g":"96 h","t":20,"y":0.15,"e":0.02},{"r":"3.0 nm","c":"HW","g":"96 h","t":40,"y":0.19,"e":0.025},{"r":"3.0 nm","c":"HW","g":"96 h","t":60,"y":0.21,"e":0.025},{"r":"3.0 nm","c":"HW","g":"96 h","t":90,"y":0.23,"e":0.025},{"r":"3.0 nm","c":"HW","g":"96 h","t":120,"y":0.245,"e":0.025},{"r":"3.0 nm","c":"HW","g":"96 h","t":160,"y":0.265,"e":0.025},{"r":"3.0 nm","c":"HW","g":"96 h","t":200,"y":0.28,"e":0.025},{"r":"3.0 nm","c":"HW","g":"96 h","t":250,"y":0.293,"e":0.025},{"r":"3.0 nm","c":"HW","g":"96 h","t":300,"y":0.305,"e":0.025},{"r":"3.0 nm","c":"HW","g":"96 h","t":350,"y":0.318,"e":0.025},{"r":"3.0 nm","c":"HW","g":"96 h","t":400,"y":0.33,"e":0.025},{"r":"3.0 nm","c":"HW","g":"96 h","t":450,"y":0.34,"e":0.025},{"r":"3.0 nm","c":"HW","g":"96 h","t":500,"y":0.35,"e":0.025},{"r":"3.0 nm","c":"HW","g":"96 h","t":550,"y":0.358,"e":0.025},{"r":"3.0 nm","c":"HW","g":"96 h","t":610,"y":0.365,"e":0.025},
{"r":"3.0 nm","c":"IL","g":"0 h","t":0,"y":0,"e":0.005},{"r":"3.0 nm","c":"IL","g":"0 h","t":5,"y":0.05,"e":0.012},{"r":"3.0 nm","c":"IL","g":"0 h","t":10,"y":0.07,"e":0.015},{"r":"3.0 nm","c":"IL","g":"0 h","t":20,"y":0.09,"e":0.02},{"r":"3.0 nm","c":"IL","g":"0 h","t":40,"y":0.12,"e":0.025},{"r":"3.0 nm","c":"IL","g":"0 h","t":60,"y":0.145,"e":0.028},{"r":"3.0 nm","c":"IL","g":"0 h","t":90,"y":0.185,"e":0.03},{"r":"3.0 nm","c":"IL","g":"0 h","t":120,"y":0.23,"e":0.03},{"r":"3.0 nm","c":"IL","g":"0 h","t":160,"y":0.27,"e":0.03},{"r":"3.0 nm","c":"IL","g":"0 h","t":200,"y":0.31,"e":0.03},{"r":"3.0 nm","c":"IL","g":"0 h","t":250,"y":0.34,"e":0.03},{"r":"3.0 nm","c":"IL","g":"0 h","t":300,"y":0.37,"e":0.03},{"r":"3.0 nm","c":"IL","g":"0 h","t":350,"y":0.39,"e":0.03},{"r":"3.0 nm","c":"IL","g":"0 h","t":400,"y":0.41,"e":0.03},{"r":"3.0 nm","c":"IL","g":"0 h","t":450,"y":0.425,"e":0.03},{"r":"3.0 nm","c":"IL","g":"0 h","t":500,"y":0.44,"e":0.03},{"r":"3.0 nm","c":"IL","g":"0 h","t":550,"y":0.452,"e":0.03},{"r":"3.0 nm","c":"IL","g":"0 h","t":610,"y":0.465,"e":0.03},
{"r":"3.0 nm","c":"IL","g":"15 h","t":0,"y":0,"e":0.005},{"r":"3.0 nm","c":"IL","g":"15 h","t":5,"y":0.05,"e":0.012},{"r":"3.0 nm","c":"IL","g":"15 h","t":10,"y":0.07,"e":0.015},{"r":"3.0 nm","c":"IL","g":"15 h","t":20,"y":0.09,"e":0.02},{"r":"3.0 nm","c":"IL","g":"15 h","t":40,"y":0.115,"e":0.025},{"r":"3.0 nm","c":"IL","g":"15 h","t":60,"y":0.135,"e":0.028},{"r":"3.0 nm","c":"IL","g":"15 h","t":90,"y":0.17,"e":0.03},{"r":"3.0 nm","c":"IL","g":"15 h","t":120,"y":0.21,"e":0.03},{"r":"3.0 nm","c":"IL","g":"15 h","t":160,"y":0.24,"e":0.03},{"r":"3.0 nm","c":"IL","g":"15 h","t":200,"y":0.27,"e":0.03},{"r":"3.0 nm","c":"IL","g":"15 h","t":250,"y":0.295,"e":0.03},{"r":"3.0 nm","c":"IL","g":"15 h","t":300,"y":0.32,"e":0.03},{"r":"3.0 nm","c":"IL","g":"15 h","t":350,"y":0.34,"e":0.03},{"r":"3.0 nm","c":"IL","g":"15 h","t":400,"y":0.36,"e":0.03},{"r":"3.0 nm","c":"IL","g":"15 h","t":450,"y":0.375,"e":0.03},{"r":"3.0 nm","c":"IL","g":"15 h","t":500,"y":0.39,"e":0.03},{"r":"3.0 nm","c":"IL","g":"15 h","t":550,"y":0.405,"e":0.03},{"r":"3.0 nm","c":"IL","g":"15 h","t":610,"y":0.42,"e":0.03},
{"r":"3.0 nm","c":"IL","g":"96 h","t":0,"y":0,"e":0.005},{"r":"3.0 nm","c":"IL","g":"96 h","t":5,"y":0.05,"e":0.012},{"r":"3.0 nm","c":"IL","g":"96 h","t":10,"y":0.07,"e":0.015},{"r":"3.0 nm","c":"IL","g":"96 h","t":20,"y":0.095,"e":0.02},{"r":"3.0 nm","c":"IL","g":"96 h","t":40,"y":0.13,"e":0.025},{"r":"3.0 nm","c":"IL","g":"96 h","t":60,"y":0.16,"e":0.028},{"r":"3.0 nm","c":"IL","g":"96 h","t":90,"y":0.205,"e":0.03},{"r":"3.0 nm","c":"IL","g":"96 h","t":120,"y":0.255,"e":0.03},{"r":"3.0 nm","c":"IL","g":"96 h","t":160,"y":0.3,"e":0.03},{"r":"3.0 nm","c":"IL","g":"96 h","t":200,"y":0.34,"e":0.03},{"r":"3.0 nm","c":"IL","g":"96 h","t":250,"y":0.375,"e":0.03},{"r":"3.0 nm","c":"IL","g":"96 h","t":300,"y":0.4,"e":0.03},{"r":"3.0 nm","c":"IL","g":"96 h","t":350,"y":0.43,"e":0.03},{"r":"3.0 nm","c":"IL","g":"96 h","t":400,"y":0.455,"e":0.03},{"r":"3.0 nm","c":"IL","g":"96 h","t":450,"y":0.48,"e":0.03},{"r":"3.0 nm","c":"IL","g":"96 h","t":500,"y":0.5,"e":0.03},{"r":"3.0 nm","c":"IL","g":"96 h","t":550,"y":0.52,"e":0.03},{"r":"3.0 nm","c":"IL","g":"96 h","t":610,"y":0.535,"e":0.03}
]},
"facet":{
"row":{"field":"r","type":"nominal","sort":["1.3 nm","1.7 nm","3.0 nm"],"header":{"title":null,"labelAngle":-90,"labelOrient":"left","labelFontSize":17,"labelFontWeight":"bold","labelColor":"black","labelPadding":-12}},
"column":{"field":"c","type":"nominal","sort":["UNT","HW","IL"],"header":{"title":null,"labelFontSize":16,"labelFontWeight":"bold","labelColor":"black","labelPadding":-3}}
},
"spacing":{"row":3,"column":8},
"resolve":{"axis":{"x":"independent","y":"independent"}},
"spec":{
"width":222,"height":149,
"encoding":{
"x":{"field":"t","type":"quantitative","scale":{"domain":[-2,650],"nice":false,"zero":false},"axis":{"values":[0,100,200,300,400,500,600],"title":"Recovery time (seconds)","titleFontSize":10,"titlePadding":3}},
"y":{"field":"y","type":"quantitative","scale":{"domain":[-0.012,1.09],"nice":false,"zero":false},"axis":{"values":[0,0.2,0.4,0.6,0.8,1.0],"labelExpr":"replace(format(datum.value,'.1f'),'.',',')","title":"Normalized fluorescence intensity","titleFontSize":9,"titlePadding":3}}
},
"layer":[
{"mark":{"type":"errorband","color":"#a3a3a3","opacity":0.55},"encoding":{"yError":{"field":"e"},"detail":{"field":"g"}}},
{"mark":{"type":"line","strokeWidth":6.5,"color":"#3a3a3a","opacity":0.75},"encoding":{"detail":{"field":"g"}}},
{"mark":{"type":"line","strokeWidth":5},"encoding":{"color":{"field":"g","type":"nominal","scale":{"domain":["0 h","15 h","96 h"],"range":["#4e1c0e","#b8682e","#b5c52a"]},"legend":{"title":null,"orient":"none","legendX":686,"legendY":478,"symbolType":"circle","symbolSize":28,"symbolStrokeColor":"#333","symbolStrokeWidth":0.5,"labelFontSize":8,"fillColor":"white","strokeColor":"#888","padding":4,"rowPadding":1,"clipHeight":9,"symbolOffset":9,"labelOffset":9}}}},
{"mark":{"type":"point","filled":true,"size":22,"opacity":1},"encoding":{"color":{"field":"g","type":"nominal","scale":{"domain":["0 h","15 h","96 h"],"range":["#4e1c0e","#b8682e","#b5c52a"]},"legend":{"title":null,"orient":"none","legendX":686,"legendY":478,"symbolType":"circle","symbolSize":28,"symbolStrokeColor":"#333","symbolStrokeWidth":0.5,"labelFontSize":8,"fillColor":"white","strokeColor":"#888","padding":4,"rowPadding":1,"clipHeight":9,"symbolOffset":9,"labelOffset":9}}}}
]
},
"config":{
"font":"Liberation Sans",
"view":{"stroke":"#8c8c8c","strokeWidth":1},
"axis":{"domain":false,"grid":false,"tickColor":"#888","tickSize":3,"labelFontSize":7,"labelColor":"#333","titleFontWeight":"normal","titleColor":"#222","labelPadding":2}
}
}
